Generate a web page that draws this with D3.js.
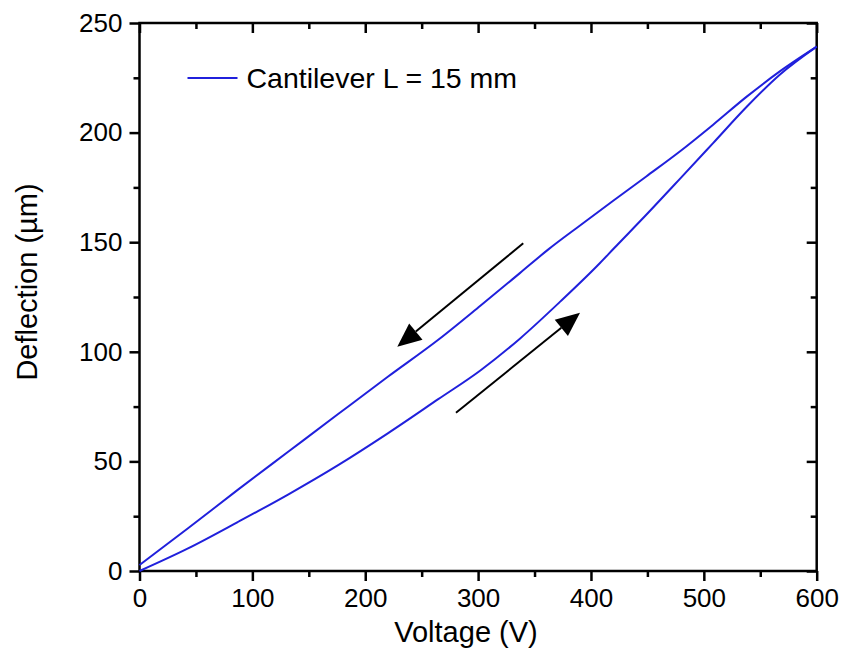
<!DOCTYPE html>
<html>
<head>
<meta charset="utf-8">
<script src="https://cdn.jsdelivr.net/npm/d3@7"></script>
<style>
  body { margin: 0; background: #fff; }
  svg { display: block; font-family: "Liberation Sans", Arial, sans-serif; }
</style>
</head>
<body>
<svg id="chart" width="843" height="666"></svg>
<script>
// ---- Data ----
const upVoltage   = [0, 43, 87, 132, 176, 220, 265, 302, 337, 373, 408, 420, 449, 479, 508, 538, 567, 600];
const upDeflect   = [0, 10.3, 22.3, 35, 48.3, 62.8, 78.5, 91.5, 106, 123, 140.5, 147, 162.5, 179, 195.1, 211.8, 226.3, 239.2];
const downVoltage = [600, 567, 538, 508, 479, 449, 420, 390, 362, 337, 302, 265, 220, 176, 132, 87, 43, 0];
const downDeflect = [239.2, 227.8, 216.4, 203.5, 191.5, 180, 169, 157.5, 146.6, 135.9, 121, 105.6, 88.6, 71.6, 54.5, 37, 19.5, 2.7];
const xTicks = [0, 100, 200, 300, 400, 500, 600];
const yTicks = [0, 50, 100, 150, 200, 250];
const xMinor = [50, 150, 250, 350, 450, 550];
const yMinor = [25, 75, 125, 175, 225];
// arrows: [x1, y1, x2, y2] in data units (tail -> tip)
const arrowDown = [340, 149.5, 228.4, 102.3];
const arrowUp   = [280.4, 72.2, 390.3, 117.8];
const legendLabel = "Cantilever L = 15 mm";
const xTitle = "Voltage (V)";
const yTitle = "Deflection (\u00b5m)";

// ---- Layout ----
const L = 139.5, R = 816.7, T = 23, B = 571;
const svg = d3.select("#chart");
const x = d3.scaleLinear().domain([0, 600]).range([L, R]);
const y = d3.scaleLinear().domain([0, 250]).range([B, T]);
const lineColor = "#2020dc";
const axisW = 2.5;

function styleAxis(g) {
  g.select(".domain").remove();
  g.selectAll(".tick line").attr("stroke", "#000").attr("stroke-width", axisW);
  g.selectAll(".tick text").attr("fill", "#000").style("font-size", "26px")
    .style("font-family", "'Liberation Sans', Arial, sans-serif");
}

// bottom (outward)
svg.append("g").attr("transform", `translate(0,${B})`)
  .call(d3.axisBottom(x).tickValues(xTicks).tickSize(10).tickPadding(8).tickFormat(d3.format("d"))).call(styleAxis);
svg.append("g").attr("transform", `translate(0,${B})`)
  .call(d3.axisBottom(x).tickValues(xMinor).tickSize(6).tickFormat("")).call(styleAxis);
// left (outward)
svg.append("g").attr("transform", `translate(${L},0)`)
  .call(d3.axisLeft(y).tickValues(yTicks).tickSize(10).tickPadding(7).tickFormat(d3.format("d"))).call(styleAxis);
svg.append("g").attr("transform", `translate(${L},0)`)
  .call(d3.axisLeft(y).tickValues(yMinor).tickSize(6).tickFormat("")).call(styleAxis);
// top (inward)
svg.append("g").attr("transform", `translate(0,${T})`)
  .call(d3.axisTop(x).tickValues(xTicks).tickSize(-10).tickFormat("")).call(styleAxis);
svg.append("g").attr("transform", `translate(0,${T})`)
  .call(d3.axisTop(x).tickValues(xMinor).tickSize(-6).tickFormat("")).call(styleAxis);
// right (inward)
svg.append("g").attr("transform", `translate(${R},0)`)
  .call(d3.axisRight(y).tickValues(yTicks).tickSize(-10).tickFormat("")).call(styleAxis);
svg.append("g").attr("transform", `translate(${R},0)`)
  .call(d3.axisRight(y).tickValues(yMinor).tickSize(-6).tickFormat("")).call(styleAxis);

// frame
svg.append("rect").attr("x", L).attr("y", T).attr("width", R - L).attr("height", B - T)
  .attr("fill", "none").attr("stroke", "#000").attr("stroke-width", axisW);

// curves
const line = d3.line().x(d => x(d[0])).y(d => y(d[1])).curve(d3.curveMonotoneX);
const upData = upVoltage.map((v, i) => [v, upDeflect[i]]);
const downData = downVoltage.map((v, i) => [v, downDeflect[i]]).sort((a, b) => a[0] - b[0]);
[upData, downData].forEach(dat => {
  svg.append("path").datum(dat).attr("d", line)
    .attr("fill", "none").attr("stroke", lineColor).attr("stroke-width", 2)
    .attr("stroke-linejoin", "round");
});

// arrows
function drawArrow(a) {
  const x1 = x(a[0]), y1 = y(a[1]), x2 = x(a[2]), y2 = y(a[3]);
  const ang = Math.atan2(y2 - y1, x2 - x1);
  const hl = 24, hw = 10.5;
  const bx = x2 - hl * Math.cos(ang), by = y2 - hl * Math.sin(ang);
  svg.append("line").attr("x1", x1).attr("y1", y1).attr("x2", bx).attr("y2", by)
    .attr("stroke", "#000").attr("stroke-width", 2);
  const px = -Math.sin(ang), py = Math.cos(ang);
  svg.append("path")
    .attr("d", `M${x2},${y2}L${bx + hw * px},${by + hw * py}L${bx - hw * px},${by - hw * py}Z`)
    .attr("fill", "#000");
}
drawArrow(arrowDown);
drawArrow(arrowUp);

// legend
const lg = svg.append("g").attr("transform", `translate(${L + 48},78)`);
lg.append("line").attr("x1", 0).attr("x2", 50).attr("y1", 0).attr("y2", 0)
  .attr("stroke", lineColor).attr("stroke-width", 2);
lg.append("text").attr("x", 59).attr("y", 0).attr("dy", "0.36em")
  .style("font-size", "28.5px").attr("fill", "#000").text(legendLabel);

// axis titles
svg.append("text").attr("x", 466).attr("y", 642).attr("text-anchor", "middle")
  .style("font-size", "29px").attr("fill", "#000").text(xTitle);
svg.append("text").attr("transform", "translate(37,282) rotate(-90)").attr("text-anchor", "middle")
  .style("font-size", "29px").attr("fill", "#000").text(yTitle);
</script>
</body>
</html>
